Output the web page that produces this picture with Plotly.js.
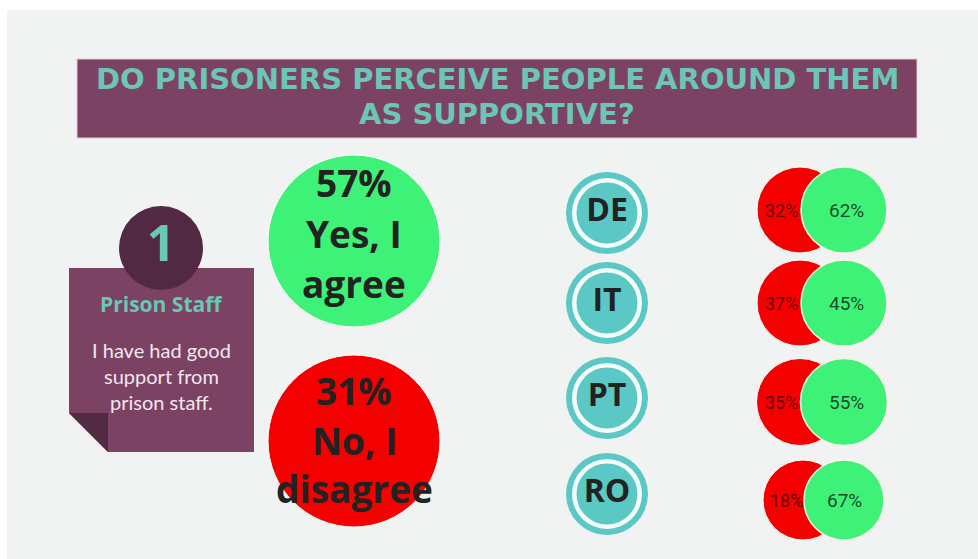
<!DOCTYPE html>
<html>
<head>
<meta charset="utf-8">
<script src="https://cdn.plot.ly/plotly-3.0.1.min.js"></script>
<style>
  html, body { margin: 0; padding: 0; background: #ffffff; }
  #grafico { width: 978px; height: 559px; }
</style>
</head>
<body>
<div id="grafico"></div>
<script>
// dados do infografico
const titulo = ['DO PRISONERS PERCEIVE PEOPLE AROUND THEM', 'AS SUPPORTIVE?'];
const numeroCartao = '1';
const tituloCartao = 'Prison Staff';
const afirmacao = ['I have had good', 'support from', 'prison staff.'];

const respostas = [['Yes, I', 'agree'], ['No, I', 'disagree']];
const percentTotal = [57, 31];

const paises = ['DE', 'IT', 'PT', 'RO'];
const discordo = [32, 37, 35, 18];
const concordo = [62, 45, 55, 67];

// cores e posicoes (layout, nao dados)
const verde = '#3ef278';
const vermelho = '#f40000';
const roxo = '#7b4264';
const roxoEscuro = '#522943';
const teal = '#6cc6b6';
const tealBadge = '#5cc8c6';
const fundo = '#f1f2f2';
const textoEscuro = '#222222';

const badgeY = [213, 303, 398, 494];
const parY = [210, 303, 402, 500];
const tamanhoPar = [86, 86, 87, 80];

let dados = [];
let anotacoes = [];

// circulo do numero do cartao
dados.push({
    x: [161], y: [248], mode: 'markers+text', hoverinfo: 'skip',
    marker: {size: 84, color: roxoEscuro, opacity: 1},
    text: ['<b>' + numeroCartao + '</b>'], textposition: 'middle center',
    textfont: {family: 'Open Sans', size: 50, color: teal}
});

// circulos grandes (total)
dados.push({
    x: [354, 354], y: [241, 441], mode: 'markers', hoverinfo: 'skip',
    marker: {size: [172, 172], color: [verde, vermelho], opacity: 1}
});
const linhasTotalY = [[182, 233, 283], [390, 440, 488]];
for (let i = 0; i < respostas.length; i++) {
    const linhas = [percentTotal[i] + '%'].concat(respostas[i]);
    for (let j = 0; j < linhas.length; j++) {
        anotacoes.push({
            x: 354, y: linhasTotalY[i][j], xref: 'x', yref: 'y', showarrow: false,
            text: '<b>' + linhas[j] + '</b>',
            font: {family: 'Open Sans', size: 37, color: textoEscuro}
        });
    }
}

// badges dos paises
const xBadge = paises.map(() => 607);
dados.push({x: xBadge, y: badgeY, mode: 'markers', hoverinfo: 'skip', marker: {size: 82, color: tealBadge, opacity: 1}});
dados.push({x: xBadge, y: badgeY, mode: 'markers', hoverinfo: 'skip', marker: {size: 70, color: '#f4fbfb', opacity: 1}});
dados.push({
    x: xBadge, y: badgeY, mode: 'markers+text', hoverinfo: 'skip',
    marker: {size: 61, color: tealBadge, opacity: 1},
    text: paises.map(p => '<b>' + p + '</b>'), textposition: 'middle center',
    textfont: {family: 'Open Sans', size: 32, color: textoEscuro}
});

// pares vermelho / verde por pais
dados.push({
    x: paises.map((p, i) => i === 3 ? 803 : 800), y: parY, mode: 'markers', hoverinfo: 'skip',
    marker: {size: tamanhoPar, color: vermelho, opacity: 1}
});
dados.push({
    x: paises.map(() => 844), y: parY, mode: 'markers', hoverinfo: 'skip',
    marker: {size: tamanhoPar, color: verde, opacity: 1, line: {width: 1.5, color: '#fbf3ea'}}
});
for (let i = 0; i < paises.length; i++) {
    anotacoes.push({
        x: i === 3 ? 786 : 781, y: parY[i], xref: 'x', yref: 'y', showarrow: false,
        text: discordo[i] + '%',
        font: {family: 'Roboto', size: 18, color: 'rgba(60,0,0,0.8)'}
    });
    anotacoes.push({
        x: i === 3 ? 844 : 846, y: parY[i], xref: 'x', yref: 'y', showarrow: false,
        text: concordo[i] + '%',
        font: {family: 'Roboto', size: 19, color: 'rgba(20,50,30,0.9)'}
    });
}

// titulo e textos do cartao
const tituloY = [79, 114];
for (let j = 0; j < titulo.length; j++) {
    anotacoes.push({
        x: 497, y: tituloY[j], xref: 'x', yref: 'y', showarrow: false,
        text: '<b>' + titulo[j] + '</b>',
        font: {family: 'DejaVu Sans', size: 29, color: teal}
    });
}
anotacoes.push({
    x: 161, y: 304, xref: 'x', yref: 'y', showarrow: false,
    text: '<b>' + tituloCartao + '</b>',
    font: {family: 'Open Sans', size: 21, color: teal}
});
anotacoes.push({
    x: 161, y: 376, xref: 'x', yref: 'y', showarrow: false,
    text: afirmacao.join('<br>'),
    font: {family: 'Lato', size: 20, color: '#f4e6ee'}
});

const formas = [
    {type: 'rect', xref: 'x', yref: 'y', x0: 7, x1: 978, y0: 10, y1: 559, fillcolor: fundo, line: {width: 0}, layer: 'below'},
    {type: 'rect', xref: 'x', yref: 'y', x0: 77, x1: 917, y0: 59, y1: 138, fillcolor: roxo, line: {width: 1, color: '#e8c6dc'}, layer: 'below'},
    {type: 'path', xref: 'x', yref: 'y', path: 'M69,268 L254,268 L254,452 L108,452 L69,413 Z', fillcolor: roxo, line: {width: 0}, layer: 'below'},
    {type: 'path', xref: 'x', yref: 'y', path: 'M69,413 L108,413 L108,452 Z', fillcolor: roxoEscuro, line: {width: 0}, layer: 'below'}
];

const layout = {
    width: 978, height: 559,
    margin: {l: 0, r: 0, t: 0, b: 0},
    paper_bgcolor: '#ffffff', plot_bgcolor: 'rgba(0,0,0,0)',
    showlegend: false,
    xaxis: {range: [0, 978], visible: false, fixedrange: true},
    yaxis: {range: [559, 0], visible: false, fixedrange: true},
    shapes: formas,
    annotations: anotacoes
};

Plotly.newPlot('grafico', dados, layout, {displayModeBar: false, staticPlot: true});
</script>
</body>
</html>
